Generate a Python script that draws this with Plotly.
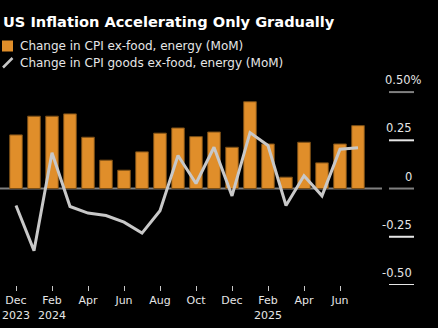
import plotly.graph_objects as go

months = ["2023-12", "2024-01", "2024-02", "2024-03", "2024-04", "2024-05", "2024-06",
          "2024-07", "2024-08", "2024-09", "2024-10", "2024-11", "2024-12", "2025-01",
          "2025-02", "2025-03", "2025-04", "2025-05", "2025-06", "2025-07"]
core_cpi = [0.278, 0.375, 0.375, 0.387, 0.266, 0.147, 0.095, 0.19, 0.287, 0.314,
            0.269, 0.293, 0.214, 0.45, 0.231, 0.059, 0.24, 0.133, 0.231, 0.326]
core_goods = [-0.088, -0.322, 0.186, -0.093, -0.127, -0.14, -0.174, -0.231, -0.115, 0.171,
              0.026, 0.214, -0.038, 0.29, 0.223, -0.088, 0.066, -0.038, 0.204, 0.212]

tick_months = ["2023-12", "2024-02", "2024-04", "2024-06", "2024-08", "2024-10",
               "2024-12", "2025-02", "2025-04", "2025-06"]
tick_text = ["Dec<br>2023", "Feb<br>2024", "Apr", "Jun", "Aug", "Oct",
             "Dec", "Feb<br>2025", "Apr", "Jun"]

y_ticks = [0.5, 0.25, 0, -0.25, -0.5]
y_labels = ["0.50%", "0.25", "0", "-0.25", "-0.50"]

series_names = ["Change in CPI ex-food, energy (MoM)",
                "Change in CPI goods ex-food, energy (MoM)"]
title = "US Inflation Accelerating Only Gradually"

ORANGE = "#E08E2A"
GRAY_LINE = "#C8C8C8"
TEXT = "#E6E6E6"
FONT = "DejaVu Sans"

fig = go.Figure()
fig.add_trace(go.Bar(x=months, y=core_cpi, name=series_names[0],
                     marker=dict(color=ORANGE, line=dict(color="#7A4E16", width=1)),
                     showlegend=False))
fig.add_trace(go.Scatter(x=months, y=core_goods, name=series_names[1], mode="lines",
                         line=dict(color=GRAY_LINE, width=3), showlegend=False))

W, H = 438, 328
ml, mr, mt, mb = 0, 24, 80, 43
pw = W - ml - mr
ph = H - mt - mb

# zero line across the plotting region
fig.add_shape(type="line", xref="paper", yref="y", x0=0, x1=382 / pw, y0=0, y1=0,
              line=dict(color="#808080", width=2), layer="below")

# right-side tick marks and labels
for v, lab in zip(y_ticks, y_labels):
    col = "#808080" if v in (0.5, 0) else "#E6E6E6"
    fig.add_shape(type="line", xref="paper", yref="y", x0=389 / pw, x1=1.0,
                  y0=v, y1=v, line=dict(color=col, width=2))
    fig.add_annotation(xref="paper", yref="y", x=1.0 if lab != "0.50%" else 1.0 + 10 / pw,
                       y=v, text=lab, showarrow=False, xanchor="right", yanchor="middle",
                       yshift=12, font=dict(family=FONT, size=11.5, color=TEXT))

# title
fig.add_annotation(xref="paper", yref="paper", x=-ml / pw + 1 / pw, y=1 + (mt - 22) / ph,
                   text="<b>" + title + "</b>", showarrow=False, xanchor="left",
                   yanchor="middle", font=dict(family=FONT, size=14.6, color="#FFFFFF"))

# manual legend
def px_x(x):
    return (x - ml) / pw

def px_y(y):
    return 1 - (y - mt) / ph

fig.add_shape(type="rect", xref="paper", yref="paper", x0=px_x(2), x1=px_x(13),
              y0=px_y(51.5), y1=px_y(40.5), fillcolor=ORANGE, line=dict(width=0))
fig.add_shape(type="line", xref="paper", yref="paper", x0=px_x(3), x1=px_x(12.5),
              y0=px_y(67.5), y1=px_y(58), line=dict(color=GRAY_LINE, width=2.5))
fig.add_annotation(xref="paper", yref="paper", x=px_x(18), y=px_y(46), text=series_names[0],
                   showarrow=False, xanchor="left", yanchor="middle",
                   font=dict(family=FONT, size=12, color=TEXT))
fig.add_annotation(xref="paper", yref="paper", x=px_x(18), y=px_y(63), text=series_names[1],
                   showarrow=False, xanchor="left", yanchor="middle",
                   font=dict(family=FONT, size=12, color=TEXT))

fig.update_layout(
    width=W, height=H,
    margin=dict(l=ml, r=mr, t=mt, b=mb),
    paper_bgcolor="#000000", plot_bgcolor="#000000",
    bargap=0.3,
    showlegend=False,
    xaxis=dict(type="category", categoryorder="array", categoryarray=months,
               range=[-16 / 18, (pw - 16) / 18],
               tickmode="array", tickvals=tick_months, ticktext=tick_text,
               ticks="outside", ticklen=5, tickwidth=1, tickcolor="#C8C8C8",
               showgrid=False, showline=False, zeroline=False,
               tickfont=dict(family=FONT, size=11, color=TEXT)),
    yaxis=dict(range=[-0.5, (188.7 - mt) * 0.25 / 48.3], showgrid=False, zeroline=False,
               showticklabels=False, showline=False),
)

fig.write_html("out.html")
